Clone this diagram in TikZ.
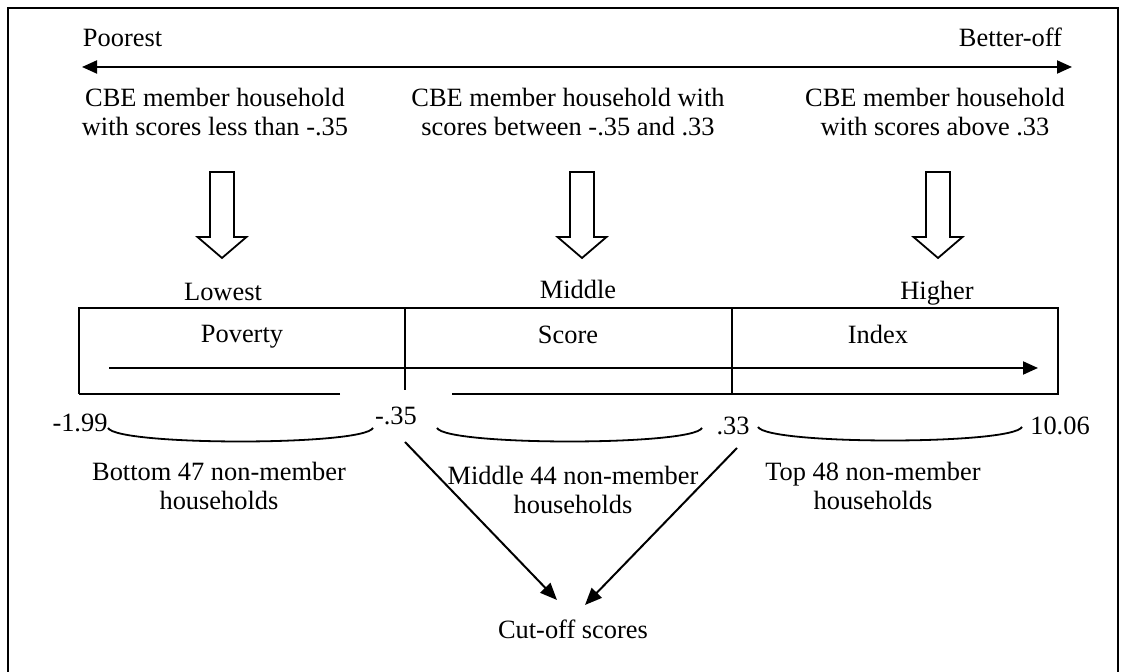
\documentclass[tikz,border=0pt]{standalone}
\usepackage{fontspec}
\setmainfont{Liberation Serif}
\usetikzlibrary{arrows.meta}
\begin{document}
\begin{tikzpicture}[x=0.5pt,y=-0.5pt,
  line width=1pt,
  txt/.style={inner sep=0pt, align=center, font=\fontsize{13.2}{14.5}\selectfont},
  cuttip/.style={-{Triangle[length=8.5pt,width=7pt]}},
  brace/.style={line width=0.9pt},
  pics/blockarrow/.style={code={
    \draw[line width=0.9pt, fill=white]
      (-12,0) -- (12,0) -- (12,65) -- (24.5,65) -- (0,86) -- (-24.5,65) -- (-12,65) -- cycle;
  }}]
\useasboundingbox (0,0) rectangle (1126,672);
% outer frame, its lower edge runs past the page
\draw (8,690) -- (8,8) -- (1118,8) -- (1118,690);

% poverty direction axis
\node[txt, anchor=base west] (poor) at (82,47) {Poorest};
\node[txt, anchor=base east] (better) at (1063,47) {Better-off};
\coordinate (axL) at (82,67);
\coordinate (axR) at (1072,67);
\draw[{Triangle[length=7.5pt,width=6.5pt]}-{Triangle[length=7.5pt,width=6.5pt]}] (axL) -- (axR);

% member household groups
\node[txt] (gLow) at (215,112) {CBE member household\\with scores less than -.35};
\node[txt] (gMid) at (568,112) {CBE member household with\\scores between -.35 and .33};
\node[txt] (gHigh) at (935,112) {CBE member household\\with scores above .33};

\pic at (222,172) {blockarrow};
\pic at (582,172) {blockarrow};
\pic at (938,172) {blockarrow};

\node[txt, anchor=base] (lLow) at (223,301) {Lowest};
\node[txt, anchor=base] (lMid) at (578,299) {Middle};
\node[txt, anchor=base] (lHigh) at (937,300) {Higher};

% poverty score index bar
\coordinate (bNW) at (79,308);
\coordinate (bNE) at (1058,308);
\coordinate (bSE) at (1058,394);
\coordinate (bSW) at (79,394);
\draw (bSW) -- (bNW) -- (bNE) -- (bSE) -- (452,394);
\draw (340,394) -- (bSW);
\draw (405,308) -- (405,390);
\draw (732,308) -- (732,394);
\node[txt, anchor=base] (tPov) at (242,343) {Poverty};
\node[txt, anchor=base] (tSco) at (568,344) {Score};
\node[txt, anchor=base] (tInd) at (878,344) {Index};
\coordinate (inL) at (109,368);
\coordinate (inR) at (1038,368);
\draw[-{Triangle[length=7.5pt,width=6.5pt]}] (inL) -- (inR);

% score values
\node[txt, anchor=base] (vA) at (80,432) {-1.99};
\node[txt, anchor=base] (vB) at (396,425) {-.35};
\node[txt, anchor=base] (vC) at (733,435) {.33};
\node[txt, anchor=base] (vD) at (1060,435) {10.06};

% ranges of non-member households
\draw[brace] (108,428) .. controls (118,446) and (363,446) .. (373,428);
\draw[brace] (437,428) .. controls (447,446) and (692,446) .. (702,428);
\draw[brace] (758,427) .. controls (768,445) and (1012,445) .. (1022,427);

\node[txt] (nLow) at (219,486) {Bottom 47 non-member\\households};
\node[txt] (nMid) at (573,490) {Middle 44 non-member\\households};
\node[txt] (nHigh) at (873,486) {Top 48 non-member\\households};

% cut-off scores
\node[txt] (cut) at (573,629) {Cut-off scores};
\coordinate (cA) at (405,442);
\coordinate (cAe) at (557,600);
\coordinate (cB) at (737,448);
\coordinate (cBe) at (585,605);
\draw[cuttip] (cA) -- (cAe);
\draw[cuttip] (cB) -- (cBe);
\end{tikzpicture}
\end{document}
